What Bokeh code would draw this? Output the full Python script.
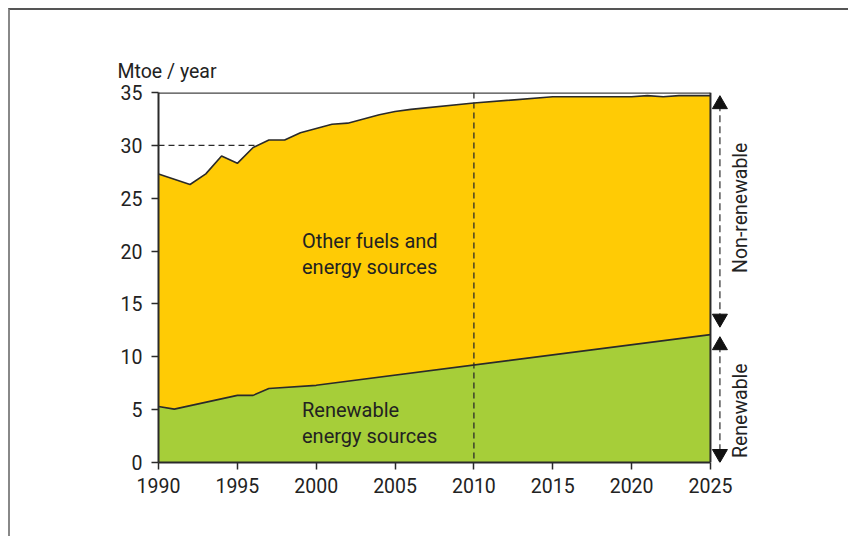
import numpy as np
from bokeh.plotting import figure
from bokeh.models import Range1d, FixedTicker, Span, Label
from bokeh.embed import file_html
from bokeh.resources import INLINE

# ---- data (Mtoe / year) ----
total_years = [1990, 1991, 1992, 1993, 1994, 1995, 1996, 1997, 1998, 1999, 2000,
               2001, 2002, 2003, 2004, 2005, 2006, 2010, 2015, 2020, 2021, 2022, 2023, 2025]
total_vals = [27.3, 26.8, 26.3, 27.3, 29.0, 28.3, 29.8, 30.5, 30.5, 31.2, 31.6,
              32.0, 32.1, 32.5, 32.9, 33.2, 33.4, 34.0, 34.6, 34.6, 34.7, 34.6, 34.7, 34.7]

ren_years = [1990, 1991, 1995, 1996, 1997, 2000, 2025]
ren_vals = [5.3, 5.05, 6.35, 6.35, 7.0, 7.3, 12.1]

x_ticks = [1990, 1995, 2000, 2005, 2010, 2015, 2020, 2025]
y_ticks = [0, 5, 10, 15, 20, 25, 30, 35]
ref_level = 30
marker_year = 2010
x_first, x_last = 1990, 2025
y_top = 35

FONT = "Roboto"
TXT = "#222222"
YELLOW = "#FFCB05"
GREEN = "#A6CE39"
LINE = "#2a2a2a"

p = figure(frame_width=604, frame_height=370,
           x_range=Range1d(x_first, 2028.3), y_range=Range1d(0, y_top),
           output_backend="svg", toolbar_location=None,
           min_border_left=148, min_border_right=86,
           min_border_top=82, min_border_bottom=74)
p.styles = {"margin-left": "8px", "margin-top": "8px",
            "border-top": "2px solid #555555", "border-left": "2px solid #888888"}

p.xgrid.visible = False
p.ygrid.visible = False
p.outline_line_color = None

for ax in (p.xaxis[0], p.yaxis[0]):
    ax.axis_line_color = LINE
    ax.axis_line_width = 2
    ax.major_tick_line_color = LINE
    ax.major_tick_line_width = 1.5
    ax.major_tick_out = 7
    ax.major_tick_in = 0
    ax.minor_tick_line_color = None
    ax.major_label_text_font = FONT
    ax.major_label_text_font_size = "19.5px"
    ax.major_label_text_color = TXT
p.xaxis.ticker = FixedTicker(ticks=x_ticks)
p.yaxis.ticker = FixedTicker(ticks=y_ticks)
p.xaxis.bounds = (x_first, x_last)
p.xaxis.major_label_standoff = 8
p.yaxis.major_label_standoff = 9

# unit label as title
p.title.text = "Mtoe / year"
p.title.align = "left"
p.title.offset = -41
p.title.text_font = FONT
p.title.text_font_size = "19.5px"
p.title.text_font_style = "normal"
p.title.text_color = TXT
p.title.standoff = 19

# yellow band (non-renewable) between renewable and total
p.patch(total_years + ren_years[::-1], total_vals + ren_vals[::-1],
        fill_color=YELLOW, line_color=None)
# green band (renewable)
p.patch(ren_years + ren_years[::-1], ren_vals + [0] * len(ren_vals),
        fill_color=GREEN, line_color=None)

p.line(total_years, total_vals, line_color=LINE, line_width=1.6)
p.line(ren_years, ren_vals, line_color=LINE, line_width=1.6)
# frame: top and right edges of the data box
p.segment(x0=[x_first], y0=[y_top], x1=[x_last], y1=[y_top],
          line_color="#444444", line_width=2.5)
p.segment(x0=[x_last], y0=[0], x1=[x_last], y1=[y_top],
          line_color=LINE, line_width=2)

# dashed reference at 30 from the axis to where the curve reaches it
i = next(k for k, v in enumerate(total_vals) if v >= ref_level)
x_cross = total_years[i - 1] + (ref_level - total_vals[i - 1]) / (total_vals[i] - total_vals[i - 1]) * (total_years[i] - total_years[i - 1])
p.segment(x0=[x_first], y0=[ref_level], x1=[x_cross], y1=[ref_level],
          line_color=LINE, line_width=1.3, line_dash="6 4")

p.add_layout(Span(location=marker_year, dimension="height", line_color=LINE,
                  line_width=1.3, line_dash="6 4"))

# double arrows on the right (dashed shafts + triangular heads)
ax_x = x_last + 0.6
head = 15                      # marker size, px
px_per_unit = 370 / y_top
tip = (head / 2) * np.sqrt(3) * 2 / 3 / px_per_unit   # center-to-tip, data units
arrows = [(total_vals[-1], ren_vals[-1] + 0.7), (ren_vals[-1] - 0.2, 0)]
for a_top, a_bot in arrows:
    p.segment(x0=[ax_x], y0=[a_top - tip], x1=[ax_x], y1=[a_bot + tip],
              line_color=LINE, line_width=1.2, line_dash="7 4")
    p.scatter([ax_x], [a_top - tip], marker="triangle", size=head,
              fill_color="#111111", line_color="#111111")
    p.scatter([ax_x], [a_bot + tip], marker="inverted_triangle", size=head,
              fill_color="#111111", line_color="#111111")

p.add_layout(Label(x=2026.9, y=24.1, text="Non-renewable", angle=np.pi / 2,
                   text_align="center", text_baseline="middle", text_font=FONT,
                   text_font_size="19.5px", text_color=TXT))
p.add_layout(Label(x=2026.9, y=4.9, text="Renewable", angle=np.pi / 2,
                   text_align="center", text_baseline="middle", text_font=FONT,
                   text_font_size="19.5px", text_color=TXT))

# inner labels
for txt, yy in [("Other fuels and", 20.95), ("energy sources", 18.45)]:
    p.add_layout(Label(x=1999.1, y=yy, text=txt, text_font=FONT, text_font_size="20px",
                       text_color=TXT, text_baseline="alphabetic"))
for txt, yy in [("Renewable", 5.0), ("energy sources", 2.55)]:
    p.add_layout(Label(x=1999.1, y=yy, text=txt, text_font=FONT, text_font_size="20px",
                       text_color=TXT, text_baseline="alphabetic"))

open("out.html", "w").write(file_html(p, INLINE))
